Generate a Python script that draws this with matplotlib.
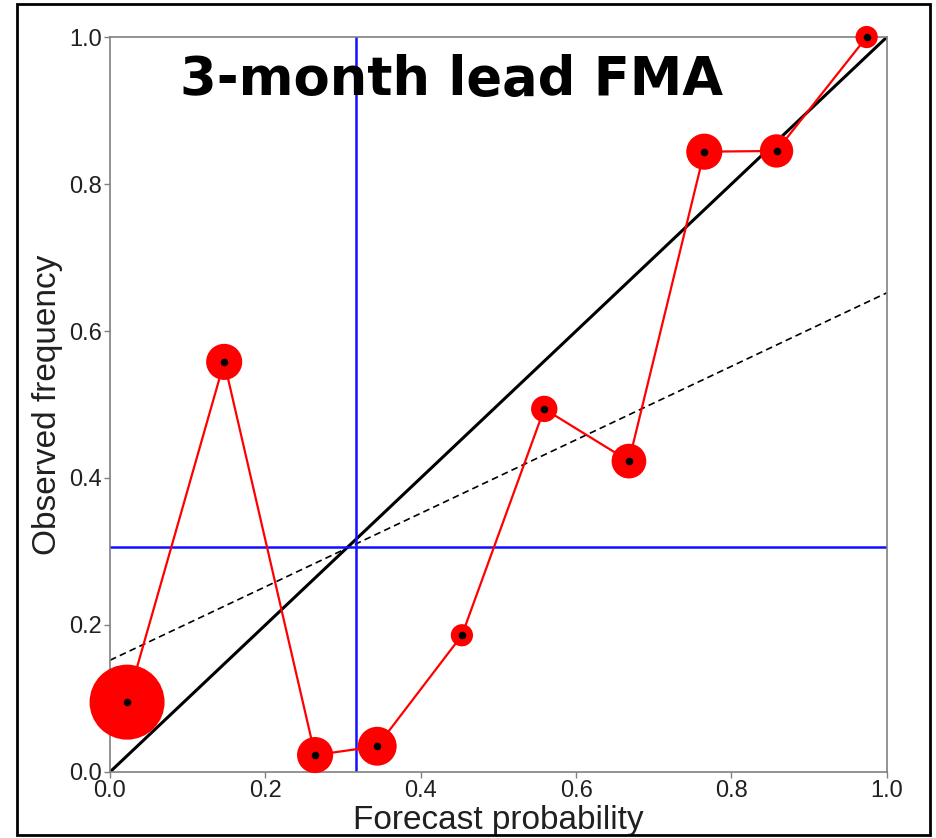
"""Reliability diagram, 3-month lead FMA."""

# 3rd party libraries
import numpy as np
import matplotlib
matplotlib.use('Agg')
from matplotlib import pyplot as plt
from matplotlib.patches import Rectangle

# forecast bins: forecast probability, observed frequency, marker diameter (pt)
forecast_prob = [0.022, 0.147, 0.264, 0.344, 0.453, 0.559, 0.668, 0.765, 0.858, 0.974]
observed_freq = [0.095, 0.558, 0.023, 0.035, 0.186, 0.494, 0.423, 0.844, 0.845, 1.0]
point_size = [54, 26, 26, 28, 16, 19, 25, 26, 24, 16]

# climatology and no-skill line
clim_forecast = 0.317
clim_observed = 0.306
no_skill_y = [0.152, 0.652]
ticks = [0.0, 0.2, 0.4, 0.6, 0.8, 1.0]
tick_labels = ['0.0', '0.2', '0.4', '0.6', '0.8', '1.0']

plt.rcParams['font.family'] = ['Liberation Sans', 'DejaVu Sans']

fig = plt.figure(figsize=(9.36, 8.38), dpi=100)
ax = fig.add_axes([0.1175, 0.0788, 0.830, 0.877])

# outer frame around the whole picture
fig.patches.append(Rectangle((0.018, 0.003), 0.976, 0.992, transform=fig.transFigure,
                             fill=False, edgecolor='black', linewidth=2))

ax.plot([0, 1], [0, 1], color='black', linewidth=2.2, zorder=2)
ax.plot([0, 1], no_skill_y, color='black', linewidth=1.2, linestyle=(0, (4, 2.5)), zorder=2)
ax.axvline(clim_forecast, color='#1010ff', linewidth=1.8, zorder=2)
ax.axhline(clim_observed, color='#1010ff', linewidth=1.8, zorder=2)

ax.plot(forecast_prob, observed_freq, color='#ff0000', linewidth=1.6, zorder=3, clip_on=False)
ax.scatter(forecast_prob, observed_freq, s=np.array(point_size) ** 2, color='#ff0000',
           edgecolors='none', zorder=4, clip_on=False)
ax.scatter(forecast_prob, observed_freq, s=20, color='black', zorder=5, clip_on=False)

ax.text(0.09, 0.941, '3-month lead FMA', fontsize=38, fontweight='bold',
        family='DejaVu Sans', va='center', ha='left', zorder=6)

ax.set_xlim(0, 1)
ax.set_ylim(0, 1)
ax.set_xticks(ticks)
ax.set_xticklabels(tick_labels)
ax.set_yticks(ticks)
ax.set_yticklabels(tick_labels)
ax.tick_params(length=4, width=1, color='#808080', labelsize=17, labelcolor='#202020', pad=2)
for spine in ax.spines.values():
    spine.set_color('#808080')
    spine.set_linewidth(1.2)

ax.set_xlabel('Forecast probability', fontsize=24, color='#202020', labelpad=2)
ax.set_ylabel('Observed frequency', fontsize=24, color='#202020', labelpad=4)

plt.savefig('out.png', dpi=100)
